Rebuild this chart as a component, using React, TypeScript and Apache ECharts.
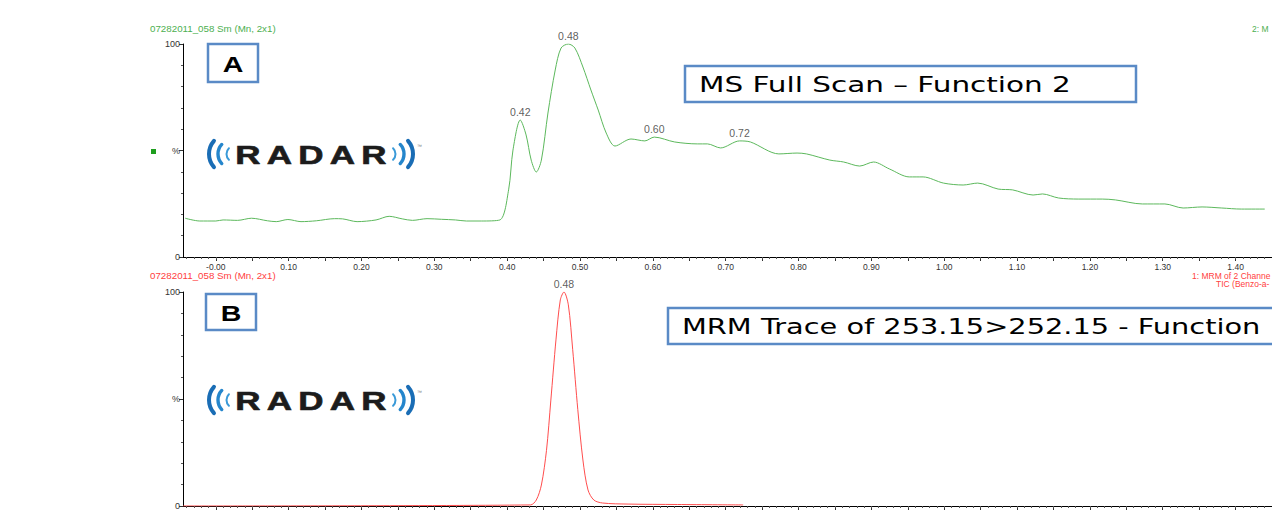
import React, { useEffect, useRef } from 'react';
import * as echarts from 'echarts';

// ---- Data ----
const msTime = [-0.042, -0.022, 0.0, 0.01, 0.03, 0.049, 0.071, 0.083, 0.099, 0.117, 0.138, 0.163, 0.174, 0.194, 0.22, 0.238, 0.256, 0.27, 0.29, 0.31, 0.329, 0.344, 0.365, 0.39, 0.402, 0.408, 0.418, 0.426, 0.433, 0.44, 0.447, 0.456, 0.466, 0.474, 0.484, 0.493, 0.504, 0.515, 0.525, 0.536, 0.548, 0.57, 0.589, 0.602, 0.63, 0.661, 0.675, 0.693, 0.719, 0.734, 0.773, 0.798, 0.811, 0.843, 0.862, 0.884, 0.903, 0.925, 0.952, 0.971, 0.999, 1.026, 1.046, 1.074, 1.094, 1.122, 1.135, 1.157, 1.184, 1.217, 1.235, 1.272, 1.303, 1.328, 1.354, 1.381, 1.408, 1.44];
const msIntensity = [18.2, 16.9, 16.9, 17.4, 17.2, 18.2, 17.0, 16.6, 17.6, 16.6, 17.0, 18.0, 17.9, 16.6, 17.4, 19.1, 17.9, 17.2, 18.0, 17.7, 17.4, 16.9, 16.9, 17.4, 31.5, 50.2, 64.3, 57.3, 45.5, 39.9, 45.5, 67.6, 87.8, 98.1, 100, 98.1, 89.2, 78.4, 69.0, 58.2, 52.1, 55.4, 54.5, 56.3, 54.0, 53.1, 53.1, 51.2, 54.5, 54.0, 48.4, 48.8, 48.4, 45.5, 44.6, 42.7, 44.6, 41.3, 37.6, 37.6, 34.7, 33.8, 34.7, 31.9, 31.5, 29.1, 29.6, 27.7, 27.2, 27.2, 26.8, 24.9, 24.9, 23.0, 23.5, 23.0, 22.5, 22.5];
const msPeakTimes = [0.418, 0.484, 0.602, 0.719];
const msPeakIntensity = [64.3, 100, 56.3, 54.5];
const msPeakLabels = ['0.42', '0.48', '0.60', '0.72'];

const mrmTime = [-0.045, 0.432, 0.44, 0.447, 0.454, 0.46, 0.467, 0.473, 0.478, 0.484, 0.49, 0.497, 0.504, 0.511, 0.519, 0.531, 0.566, 0.634, 0.724];
const mrmIntensity = [0, 0.5, 2.8, 9.8, 26, 49.5, 77.6, 96.3, 100, 94, 73, 45, 21.5, 7.5, 2.8, 1.4, 0.9, 0.7, 0.5];
const mrmPeakTimes = [0.478];
const mrmPeakIntensity = [100];
const mrmPeakLabels = ['0.48'];

const xTickValues = [0, 0.1, 0.2, 0.3, 0.4, 0.5, 0.6, 0.7, 0.8, 0.9, 1.0, 1.1, 1.2, 1.3, 1.4];
const xTickLabels = ['-0.00', '0.10', '0.20', '0.30', '0.40', '0.50', '0.60', '0.70', '0.80', '0.90', '1.00', '1.10', '1.20', '1.30', '1.40'];
const xHalfTickValues = [0.05, 0.15, 0.25, 0.35, 0.45, 0.55, 0.65, 0.75, 0.85, 0.95, 1.05, 1.15, 1.25, 1.35, 1.45];
const yTickValues = [0, 50, 100];
const yTickLabels = ['0', '%', '100'];

const X_MIN = -0.045;
const X_MAX = 1.45;

const minorTicks: number[] = [];
for (let i = -4; i <= 144; i++) minorTicks.push(i / 100);
const majorTicks = [...xTickValues, ...xHalfTickValues].sort((a, b) => a - b);

const FONT = '"Liberation Sans", Arial, sans-serif';
const BOXFONT = '"DejaVu Sans", Verdana, sans-serif';

function xLabel(v: number) {
  const i = xTickValues.findIndex((t) => Math.abs(t - v) < 1e-6);
  return i >= 0 ? xTickLabels[i] : '';
}
function yLabel(v: number) {
  const i = yTickValues.findIndex((t) => Math.abs(t - v) < 1e-6);
  return i >= 0 ? yTickLabels[i] : '';
}

function mainX(gridIndex: number, showLabels: boolean) {
  return {
    type: 'value',
    gridIndex,
    position: 'bottom',
    min: X_MIN,
    max: X_MAX,
    axisLine: { show: true, onZero: false, lineStyle: { color: '#000', width: 1 } },
    axisTick: { show: true, customValues: majorTicks, length: 4, lineStyle: { color: '#333' } },
    axisLabel: {
      show: showLabels,
      customValues: xTickValues,
      formatter: (v: number) => xLabel(v),
      fontSize: 8.5,
      color: '#333',
      margin: 5,
      fontFamily: FONT,
    },
    splitLine: { show: false },
  };
}
function minorX(gridIndex: number) {
  return {
    type: 'value',
    gridIndex,
    position: 'bottom',
    offset: 0,
    min: X_MIN,
    max: X_MAX,
    axisLine: { show: false, onZero: false },
    axisTick: { show: true, customValues: minorTicks, length: 2, lineStyle: { color: '#555' } },
    axisLabel: { show: false },
    splitLine: { show: false },
  };
}
function mainY(gridIndex: number) {
  return {
    type: 'value',
    gridIndex,
    position: 'left',
    min: 0,
    max: 100,
    interval: 50,
    axisLine: { show: true, onZero: false, lineStyle: { color: '#000', width: 1 } },
    axisTick: { show: true, length: 4, lineStyle: { color: '#333' } },
    minorTick: { show: true, splitNumber: 5, length: 2, lineStyle: { color: '#555' } },
    axisLabel: { formatter: (v: number) => yLabel(v), fontSize: 9, color: '#333', margin: 3, fontFamily: FONT },
    splitLine: { show: false },
  };
}

function logo(cy: number) {
  const els: any[] = [];
  const leftArcs = [
    [229, 20, 4.0, '#1a6db5', 0.72],
    [232, 14, 3.4, '#2586cc', 0.75],
    [234.5, 8, 2.0, '#3a9ad8', 0.8],
  ];
  leftArcs.forEach(([cx, r, w, c, a]: any) => {
    els.push({
      type: 'arc',
      shape: { cx, cy, r, startAngle: Math.PI - a, endAngle: Math.PI + a, clockwise: true },
      style: { stroke: c, lineWidth: w, fill: null, lineCap: 'round' },
    });
    els.push({
      type: 'arc',
      shape: { cx: 622 - cx, cy, r, startAngle: -a, endAngle: a, clockwise: true },
      style: { stroke: c, lineWidth: w, fill: null, lineCap: 'round' },
    });
  });
  const letters = ['R', 'A', 'D', 'A', 'R'];
  const centers = [248, 279.5, 311, 342.5, 374];
  letters.forEach((ch, i) => {
    els.push({
      type: 'text',
      x: centers[i],
      y: cy + 1,
      scaleX: 1.4,
      style: {
        text: ch,
        font: `bold 25px ${FONT}`,
        fill: '#1c1c1c',
        stroke: '#1c1c1c',
        lineWidth: 0.6,
        textAlign: 'center',
        textVerticalAlign: 'middle',
      },
    });
  });
  els.push({
    type: 'text',
    x: 417,
    y: cy - 8,
    style: { text: '™', font: `5px ${FONT}`, fill: '#777', textAlign: 'left', textVerticalAlign: 'middle' },
  });
  return els;
}

function smallText(x: number, y: number, text: string, fill: string, scaleX = 1.15) {
  return {
    type: 'text',
    x,
    y,
    scaleX,
    style: { text, font: `8.5px ${FONT}`, fill, textVerticalAlign: 'middle' },
  };
}

export default function App() {
  const ref = useRef<HTMLDivElement>(null);
  useEffect(() => {
    if (!ref.current) return;
    const chart = echarts.init(ref.current, undefined, { renderer: 'svg' });
    const boxStroke = '#5a8ac6';
    const graphic: any[] = [
      // headers
      smallText(150, 29, '07282011_058 Sm (Mn, 2x1)', '#4caf50'),
      smallText(1252, 29, '2: M', '#4caf50', 1),
      smallText(150, 276, '07282011_058 Sm (Mn, 2x1)', '#ff4040'),
      smallText(1192, 276, '1: MRM of 2 Channe', '#ff4040', 1),
      smallText(1216, 284, 'TIC (Benzo-a-', '#ff4040', 1),
      // green marker
      { type: 'rect', shape: { x: 151, y: 149, width: 5, height: 5 }, style: { fill: '#1e9e1e' } },
      // panel labels
      { type: 'rect', shape: { x: 208, y: 44, width: 50, height: 38 }, style: { fill: '#fff', stroke: boxStroke, lineWidth: 2.5 } },
      { type: 'text', x: 233, y: 64, scaleX: 1.3, style: { text: 'A', font: `bold 22px ${FONT}`, fill: '#000', textAlign: 'center', textVerticalAlign: 'middle' } },
      { type: 'rect', shape: { x: 206, y: 294, width: 50, height: 36 }, style: { fill: '#fff', stroke: boxStroke, lineWidth: 2.5 } },
      { type: 'text', x: 231, y: 313, scaleX: 1.3, style: { text: 'B', font: `bold 22px ${FONT}`, fill: '#000', textAlign: 'center', textVerticalAlign: 'middle' } },
      // description boxes
      { type: 'rect', shape: { x: 685, y: 66, width: 451, height: 36 }, style: { fill: '#fff', stroke: boxStroke, lineWidth: 2.5 } },
      { type: 'text', x: 699, y: 84, scaleX: 1.34, style: { text: 'MS Full Scan – Function 2', font: `22px ${BOXFONT}`, fill: '#000', textVerticalAlign: 'middle' } },
      { type: 'rect', shape: { x: 668, y: 308, width: 640, height: 36 }, style: { fill: '#fff', stroke: boxStroke, lineWidth: 2.5 } },
      { type: 'text', x: 682, y: 326, scaleX: 1.31, style: { text: 'MRM Trace of 253.15>252.15 - Function', font: `22px ${BOXFONT}`, fill: '#000', textVerticalAlign: 'middle' } },
      ...logo(154),
      ...logo(400),
    ];

    const peakLabel = {
      show: true,
      position: 'top',
      distance: 2,
      formatter: (p: any) => p.name,
      fontSize: 10.5,
      color: '#333',
      fontFamily: FONT,
    };

    chart.setOption({
      animation: false,
      backgroundColor: '#fff',
      grid: [
        { left: 183, top: 44, width: 1094, height: 213 },
        { left: 183, top: 292, width: 1094, height: 214 },
      ],
      xAxis: [mainX(0, true), minorX(0), mainX(1, false), minorX(1)],
      yAxis: [mainY(0), mainY(1)],
      series: [
        {
          type: 'line',
          xAxisIndex: 0,
          yAxisIndex: 0,
          data: msTime.map((t, i) => [t, msIntensity[i]]),
          showSymbol: false,
          smooth: 0.3,
          lineStyle: { color: '#5cb85c', width: 1 },
          silent: true,
        },
        {
          type: 'scatter',
          xAxisIndex: 0,
          yAxisIndex: 0,
          symbolSize: 1,
          itemStyle: { color: 'rgba(0,0,0,0)' },
          data: msPeakTimes.map((t, i) => ({ value: [t, msPeakIntensity[i]], name: msPeakLabels[i] })),
          label: peakLabel,
          silent: true,
        },
        {
          type: 'line',
          xAxisIndex: 2,
          yAxisIndex: 1,
          data: mrmTime.map((t, i) => [t, mrmIntensity[i]]),
          showSymbol: false,
          smooth: 0.3,
          lineStyle: { color: '#ff4d4d', width: 1 },
          silent: true,
        },
        {
          type: 'scatter',
          xAxisIndex: 2,
          yAxisIndex: 1,
          symbolSize: 1,
          itemStyle: { color: 'rgba(0,0,0,0)' },
          data: mrmPeakTimes.map((t, i) => ({ value: [t, mrmPeakIntensity[i]], name: mrmPeakLabels[i] })),
          label: peakLabel,
          silent: true,
        },
      ],
      graphic,
    });
    return () => chart.dispose();
  }, []);

  return <div ref={ref} style={{ position: 'fixed', left: 0, top: 0, width: 1272, height: 512 }} />;
}
